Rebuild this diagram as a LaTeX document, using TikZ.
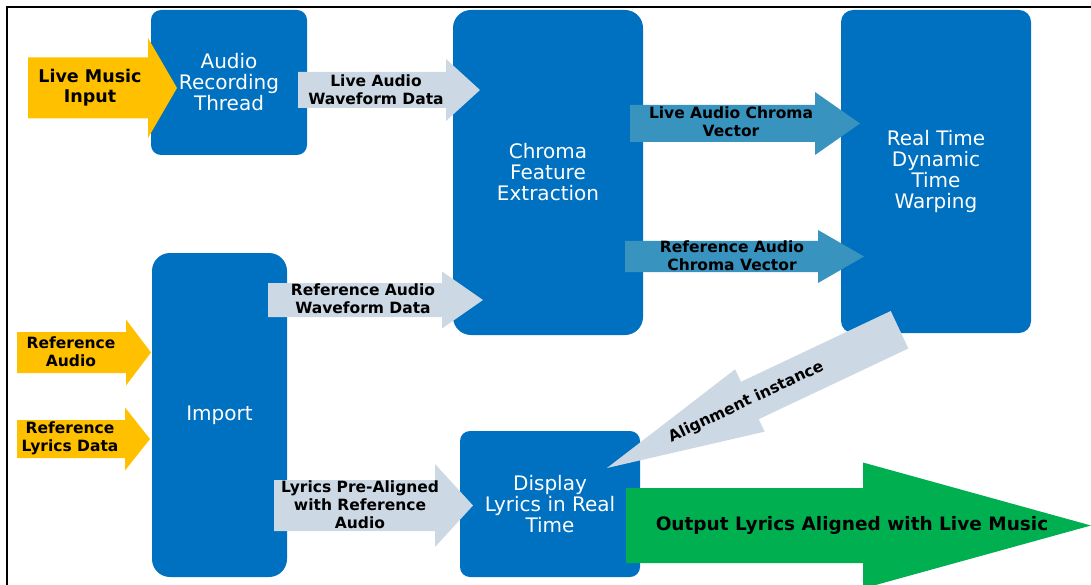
\documentclass[tikz,border=0pt]{standalone}
\usepackage{fontspec}
\setmainfont{DejaVu Sans}
\usepackage{tikz}
\usetikzlibrary{positioning,calc}

\definecolor{boxblue}{RGB}{0,112,192}
\definecolor{gold}{RGB}{255,192,0}
\definecolor{paleblue}{RGB}{205,216,229}
\definecolor{tealarr}{RGB}{56,147,190}
\definecolor{outgreen}{RGB}{0,176,80}

% block arrow: style, tail x, head base x, tip x, centre y, shaft half width, head half width
\newcommand{\blockarrow}[7]{%
  \fill[#1] (#2,#5-#6) -- (#3,#5-#6) -- (#3,#5-#7) -- (#4,#5)
    -- (#3,#5+#7) -- (#3,#5+#6) -- (#2,#5+#6) -- cycle;}

\begin{document}
\begin{tikzpicture}[
    x=1pt, y=-1pt,
    blockbox/.style={fill=boxblue, text=white, align=center, inner sep=0,
      font=\fontsize{20}{21}\selectfont},
    lbl/.style={align=center, inner sep=0, font=\bfseries\fontsize{15.5}{18}\selectfont},
    goldarr/.style={fill=gold},
    palearr/.style={fill=paleblue},
    tealfill/.style={fill=tealarr},
    greenarr/.style={fill=outgreen}
  ]
    \clip (0,0) rectangle (1091,585);
    \useasboundingbox (0,0) rectangle (1091,585);
    \draw[line width=1.5] (7,585) -- (7,7) -- (1091,7);

    % processing blocks
    \node[blockbox, rounded corners=10, minimum width=156, minimum height=145] (rec) at (229,82.5) {Audio\\Recording\\Thread};
    \node[blockbox, rounded corners=18, minimum width=190, minimum height=325] (chroma) at (548,172.5) {Chroma\\Feature\\Extraction};
    \node[blockbox, rounded corners=12, minimum width=190, minimum height=323] (dtw) at (936,171.5) {Real Time\\Dynamic\\Time\\Warping};
    \node[blockbox, rounded corners=18, minimum width=135, minimum height=324] (import) at (219.5,415) {Import};
    \node[blockbox, rounded corners=10, minimum width=180, minimum height=146] (display) at (550,504) {Display\\Lyrics in Real\\Time};

    % inputs
    \blockarrow{goldarr}{28}{148}{177}{88}{30.5}{50}
    \node[lbl, font=\bfseries\fontsize{17.5}{20}\selectfont] (livein) at (90,88) {Live Music\\Input};
    \blockarrow{goldarr}{17}{126}{151}{352.5}{20.5}{33}
    \node[lbl] (refaudio) at (71,352) {Reference\\Audio};
    \blockarrow{goldarr}{17}{125}{150}{439}{19}{31.5}
    \node[lbl] (reflyrics) at (70,438) {Reference\\Lyrics Data};

    % data flows
    \blockarrow{palearr}{298}{446}{480}{90}{18}{31}
    \node[lbl] (livewave) at (376,90) {Live Audio\\Waveform Data};
    \blockarrow{palearr}{268}{442}{483}{300}{17}{28.5}
    \node[lbl] (refwave) at (363,299) {Reference Audio\\Waveform Data};
    \blockarrow{palearr}{274}{435}{473}{505.5}{25.5}{41.5}
    \node[lbl] (prealign) at (360,505) {Lyrics Pre-Aligned\\with Reference\\Audio};
    \blockarrow{tealfill}{630}{815}{860}{123.5}{18.5}{31.5}
    \node[lbl] (livevec) at (731,122) {Live Audio Chroma\\Vector};
    \blockarrow{tealfill}{625}{818}{864}{256.5}{15.5}{26.5}
    \node[lbl] (refvec) at (732,256) {Reference Audio\\Chroma Vector};

    % alignment back to display
    \begin{scope}[shift={(607,468)}, rotate=25.3]
      \fill[palearr] (0,0) -- (158,34.5) -- (158,20.7) -- (323.6,20.7)
        -- (323.6,-20.7) -- (158,-20.7) -- (158,-34.5) -- cycle;
      \node[lbl, rotate=25.3] (align) at (154,0) {Alignment instance};
    \end{scope}

    % output
    \blockarrow{greenarr}{626}{863}{1091}{525.5}{37.5}{63}
    \node[lbl, font=\bfseries\fontsize{18.5}{21}\selectfont] (output) at (852,525) {Output Lyrics Aligned with Live Music};
  \end{tikzpicture}
\end{document}
